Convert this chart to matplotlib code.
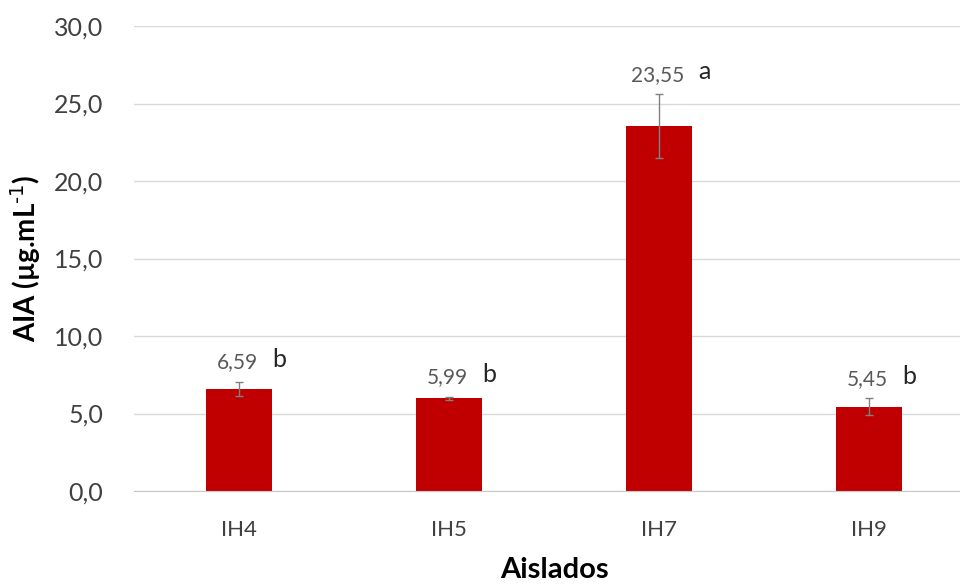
import matplotlib
matplotlib.use('Agg')
import matplotlib.pyplot as plt
import numpy as np

plt.rcParams['font.family'] = ['Lato', 'DejaVu Sans']

aislados = ['IH4', 'IH5', 'IH7', 'IH9']
aia = [6.59, 5.99, 23.55, 5.45]
desvio = [0.46, 0.1, 2.05, 0.53]
letras = ['b', 'b', 'a', 'b']
yticks = np.arange(0, 31, 5)

fig = plt.figure(figsize=(9.6, 5.88), dpi=100)
ax = fig.add_axes([134 / 960, 97 / 588, 840 / 960, 465 / 588])

x = np.arange(len(aislados))
ax.bar(x, aia, width=0.31, color='#C00000', zorder=2)
ax.errorbar(x, aia, yerr=desvio, fmt='none', ecolor='#808080',
            elinewidth=1, capsize=3, capthick=1, zorder=3)

# valor medio sobre la barra y letra de la prueba a su derecha
for i in range(len(aislados)):
    top = aia[i] + desvio[i]
    lbl = ax.annotate(f'{aia[i]:.2f}'.replace('.', ','), (x[i], top),
                      xytext=(-1, 14), textcoords='offset points',
                      ha='center', va='center', fontsize=15, color='#595959')
    ax.annotate(letras[i], xy=(1, 0.5), xycoords=lbl,
                xytext=(10, 2), textcoords='offset points',
                ha='left', va='center', fontsize=18, color='#262626')

ax.set_xlim(-0.5, 3.5)
ax.set_ylim(0, 30)
ax.set_xticks(x)
ax.set_xticklabels(aislados, fontsize=16, color='#404040')
ax.set_yticks(yticks)
ax.set_yticklabels([f'{v:.1f}'.replace('.', ',') for v in yticks],
                   fontsize=18, color='#404040')
ax.tick_params(axis='both', length=0)
ax.tick_params(axis='x', pad=21)
ax.tick_params(axis='y', pad=22)
ax.yaxis.grid(True, color='#d9d9d9', linewidth=1)
ax.set_axisbelow(True)
for s in ['top', 'right', 'left']:
    ax.spines[s].set_visible(False)
ax.spines['bottom'].set_color('#c8c8c8')

ax.set_xlabel('Aislados', fontsize=21, fontweight='bold', labelpad=12)
ax.set_ylabel(r'AIA (µg.mL$^{\text{-1}}$)', fontsize=20, fontweight='bold', labelpad=8)

plt.savefig('out.png', dpi=100)
